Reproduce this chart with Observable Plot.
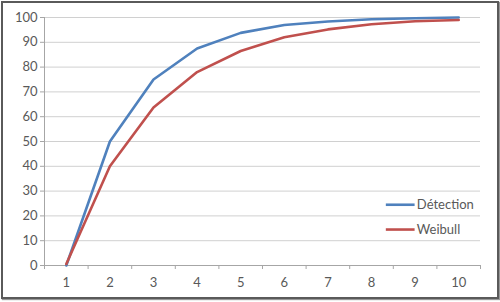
<!DOCTYPE html>
<html><head><meta charset="utf-8">
<script src="https://cdn.jsdelivr.net/npm/d3@7"></script>
<script src="https://cdn.jsdelivr.net/npm/@observablehq/plot@0.6"></script>
<style>
html,body{margin:0;padding:0;background:#fff;}
#frame{position:absolute;left:1px;top:1px;width:494px;height:294px;border:2px solid #5a5a5a;box-shadow:1px 1px 1px #999;overflow:hidden;background:#fff;}
#frame svg{position:absolute;left:-3px;top:-3px;max-width:none !important;}
</style>
</head><body>
<div id="frame"></div>
<script>
const categories = [1,2,3,4,5,6,7,8,9,10];
const detection = [0, 50, 75, 87.5, 93.8, 97, 98.4, 99.3, 99.7, 100];
const weibull = [0.6, 40, 63.7, 78, 86.5, 92, 95.2, 97.3, 98.5, 99];
const seriesNames = ["Détection", "Weibull"];
const seriesColors = ["#4F81BD", "#C0504D"];
const yTicks = [0,10,20,30,40,50,60,70,80,90,100];
const legendY = [24.5, 14.5];

const rows = [];
categories.forEach((c,i)=>{
  rows.push({x:c, y:detection[i], s:seriesNames[0]});
  rows.push({x:c, y:weibull[i], s:seriesNames[1]});
});
const boundaries = d3.range(categories.length+1).map(i=>categories[0]-0.5+i);
const legend = seriesNames.map((s,i)=>({s, y:legendY[i]}));

const font = "Lato, 'Open Sans', sans-serif";
const chart = Plot.plot({
  width: 500, height: 302,
  marginLeft: 44, marginRight: 20, marginTop: 17, marginBottom: 37,
  style: {fontFamily: font, fontSize: "13px", color: "#595959", background: "#fff"},
  x: {domain: [boundaries[0], boundaries[boundaries.length-1]]},
  y: {domain: [0, 100]},
  color: {domain: seriesNames, range: seriesColors},
  marks: [
    Plot.gridY(yTicks.filter(t=>t>0), {stroke: "#d0d0d0", strokeOpacity: 1}),
    Plot.axisY(yTicks, {tickSize: 4, tickPadding: 3, stroke: "#a6a6a6", fill: "#595959", fontSize: 13, label: null}),
    Plot.axisX(boundaries, {tickSize: 4, text: null, stroke: "#a6a6a6", label: null}),
    Plot.axisX(categories, {tickSize: 0, tickPadding: 12, fill: "#595959", fontSize: 13, label: null}),
    Plot.ruleX([boundaries[0]], {stroke: "#a6a6a6"}),
    Plot.ruleY([0], {stroke: "#a6a6a6"}),
    Plot.line(rows, {x: "x", y: "y", z: "s", stroke: "s", strokeWidth: 2.6}),
    Plot.ruleY(legend, {y: "y", x1: 8.34, x2: 9.0, stroke: "s", strokeWidth: 2.6}),
    Plot.text(legend, {y: "y", x: 9.04, text: "s", textAnchor: "start", fill: "#595959", fontSize: 13})
  ]
});
document.getElementById("frame").appendChild(chart);
</script>
</body></html>
